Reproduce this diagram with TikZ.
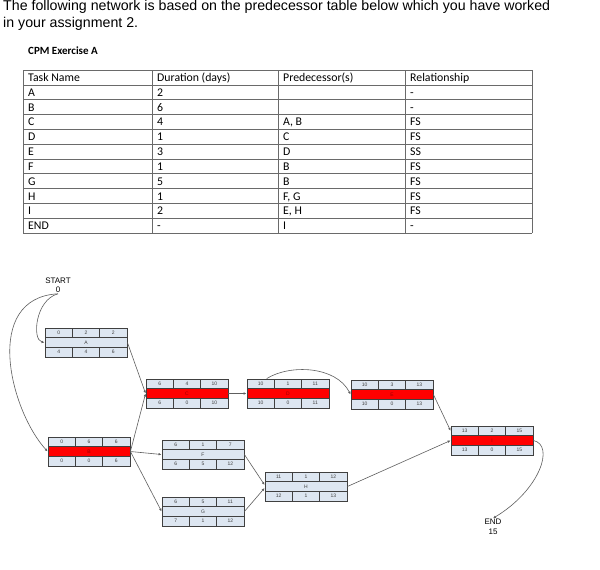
\documentclass[tikz,border=0pt]{standalone}
\usepackage{fontspec}
\usepackage{tikz}
\usetikzlibrary{arrows.meta}
\newfontfamily\arialfont{Liberation Sans}
\newfontfamily\calfont{Carlito}
\definecolor{cellfill}{HTML}{DDE6F1}
\definecolor{boxline}{HTML}{404040}
\definecolor{critred}{HTML}{FF0000}
\definecolor{critink}{HTML}{9A0000}
\definecolor{wire}{HTML}{5E5E5E}
\definecolor{rule}{HTML}{6A6A6A}
\tikzset{
  cell/.style={draw=boxline,fill=cellfill,line width=0.8pt,minimum width=27.33pt,
    minimum height=9.67pt,inner sep=0pt,font=\arialfont\fontsize{5}{5}\selectfont,text=black!75},
  midrow/.style={cell,minimum width=82pt},
  critrow/.style={fill=critred,text=critink},
  freerow/.style={},
  conn/.style={draw=wire,line width=0.6pt,-{Latex[length=3pt,width=2.6pt]}},
  tabtext/.style={anchor=base west,inner sep=0pt,font=\calfont\fontsize{11.8}{13}\selectfont},
  evtext/.style={align=center,inner sep=1pt,font=\arialfont\fontsize{8}{9.5}\selectfont},
}

\begin{document}
\begin{tikzpicture}[x=1pt,y=-1pt,>=Latex]
    \useasboundingbox (0,0) rectangle (600,570);
    \fill[white] (0,0) rectangle (600,570);
    \node[anchor=base west,inner sep=0pt,font=\arialfont\fontsize{14.2}{16}\selectfont] (title1) at (3,10.5)
      {The following network is based on the predecessor table below which you have worked};
    \node[anchor=base west,inner sep=0pt,font=\arialfont\fontsize{14.2}{16}\selectfont] (title2) at (3,27.5)
      {in your assignment 2.};
    \node[tabtext,font=\calfont\bfseries\fontsize{11}{13}\selectfont] (exercise) at (28,54) {CPM Exercise A};
    \foreach \x in {23,152,278,405,532}
    {
        \draw[rule,line width=0.6pt] (\x,70) -- (\x,233);
    }
    \foreach \r in {0,...,11}
    {
        \draw[rule,line width=0.6pt] (23,70+14.82*\r) -- (532,70+14.82*\r);
    }
    \node[tabtext] (head-a) at (28,81.5) {Task Name};
    \node[tabtext] (head-b) at (157,81.5) {Duration (days)};
    \node[tabtext] (head-c) at (283,81.5) {Predecessor(s)};
    \node[tabtext] (head-d) at (410,81.5) {Relationship};
    \foreach \r/\task/\dur/\pre/\rel in {1/A/2//-, 2/B/6//-, 3/C/4/{A, B}/FS, 4/D/1/C/FS,
      5/E/3/D/SS, 6/F/1/B/FS, 7/G/5/B/FS, 8/H/1/{F, G}/FS, 9/I/2/{E, H}/FS, 10/END/-/I/-}
    {
        \node[tabtext] (row\r-a) at (28,81.5+14.82*\r) {\task};
        \node[tabtext] (row\r-b) at (157,81.5+14.82*\r) {\dur};
        \node[tabtext] (row\r-c) at (283,81.5+14.82*\r) {\pre};
        \node[tabtext] (row\r-d) at (410,81.5+14.82*\r) {\rel};
    }
    \node[evtext] (start) at (58,285) {START\\0};
    \node[evtext] (finish) at (493,527) {END\\15};
    \foreach \n/\x/\y/\es/\dur/\ef/\ls/\fl/\lf/\kind in {A/45/328/0/2/2/4/4/6/freerow,
      B/48/437/0/6/6/0/0/6/critrow, C/146/379/6/4/10/6/0/10/critrow,
      D/247/379/10/1/11/10/0/11/critrow, E/351/380/10/3/13/10/0/13/critrow,
      F/162/440/6/1/7/6/5/12/freerow, G/162/497/6/5/11/7/1/12/freerow,
      H/265/472/11/1/12/12/1/13/freerow, I/451/426/13/2/15/13/0/15/critrow}
    {
        \node[cell] (\n-es) at (\x+13.67,\y+4.83) {\es};
        \node[cell] (\n-du) at (\x+41,\y+4.83) {\dur};
        \node[cell] (\n-ef) at (\x+68.33,\y+4.83) {\ef};
        \node[cell] (\n-ls) at (\x+13.67,\y+24.17) {\ls};
        \node[cell] (\n-fl) at (\x+41,\y+24.17) {\fl};
        \node[cell] (\n-lf) at (\x+68.33,\y+24.17) {\lf};
        \node[midrow,\kind] (\n) at (\x+41,\y+14.5) {\n};
    }
    \draw[conn] (start.south) .. controls (35,300) and (32,340) .. (A.west);
    \draw[conn] (start.south) .. controls (-18,298) and (10,410) .. (B.west);
    \draw[conn] (A.east) -- (C.west);
    \draw[conn] (B.east) -- (C.west);
    \draw[conn] (B.east) -- (F.west);
    \draw[conn] (B.east) -- (G.west);
    \draw[conn] (C.east) -- (D.west);
    \draw[conn] ([xshift=6pt]D-es.north) .. controls (290,364) and (336,366) .. (E.west);
    \draw[conn] (E.east) -- (I-es.west);
    \draw[conn] (F.east) -- ([yshift=1.5pt]H.west);
    \draw[conn] (G.east) -- ([yshift=-1.5pt]H.west);
    \draw[conn] (H.east) -- (I.west);
    \draw[conn] (I.east) .. controls (555,445) and (540,490) .. (finish.north);
\end{tikzpicture}
\end{document}
